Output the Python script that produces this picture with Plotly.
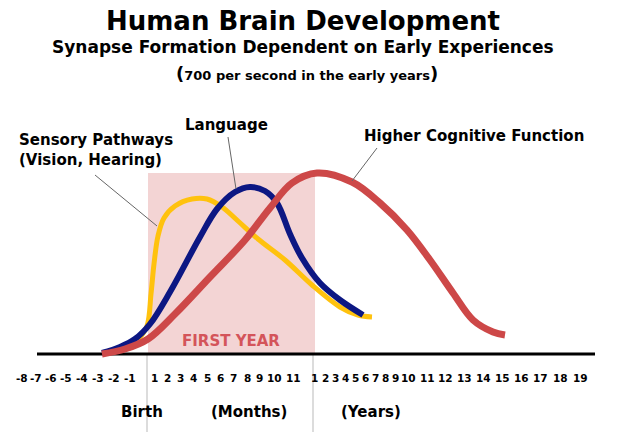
import plotly.graph_objects as go

# ---- Data (x: horizontal position on the timeline scale, y: synapse formation level) ----
sensory_x = [138, 147, 151, 154, 158, 164, 175, 192, 207, 222, 238, 258, 285, 312, 340, 358, 372]
sensory_y = [14, 28, 60, 90, 118, 136, 148, 155, 155, 147, 133, 115, 94, 69, 47, 39, 37]

language_x = [102, 120, 135, 150, 170, 200, 217, 235, 250, 265, 277, 290, 302, 320, 340, 363]
language_y = [1, 7, 15, 30, 62, 117, 145, 162, 167, 163, 151, 120, 96, 71, 54, 39]

cognitive_x = [102, 125, 148, 175, 210, 245, 270, 292, 317, 352, 380, 407, 430, 453, 473, 493, 505]
cognitive_y = [0, 5, 15, 40, 77, 114, 146, 171, 181, 172, 151, 124, 94, 61, 34, 22, 19]

tick_labels = ["-8", "-7", "-6", "-5", "-4", "-3", "-2", "-1",
               "1", "2", "3", "4", "5", "6", "7", "8", "9", "10", "11",
               "1", "2", "3", "4", "5", "6", "7", "8", "9", "10", "11", "12", "13", "14",
               "15", "16", "17", "18", "19"]
tick_pos = [22, 36, 51, 66, 82, 98, 114, 130,
            154, 167, 180, 193, 207, 220, 233, 247, 259, 274, 293,
            314, 325, 335, 345, 355, 365, 375, 385, 395, 408, 427, 445, 464, 483,
            502, 521, 540, 560, 580]

first_year = (148, 315)   # span of the first year band
axis_span = (37, 595)
years_start = 313

FONT = "DejaVu Sans"
YELLOW = "#FFC20E"
NAVY = "#0C1783"
RED = "#CD4848"

fig = go.Figure()

fig.add_trace(go.Scatter(x=sensory_x, y=sensory_y, mode="lines",
                         line=dict(color=YELLOW, width=5, shape="spline", smoothing=1),
                         hoverinfo="skip", showlegend=False))
fig.add_trace(go.Scatter(x=language_x, y=language_y, mode="lines",
                         line=dict(color=NAVY, width=6, shape="spline", smoothing=1),
                         hoverinfo="skip", showlegend=False))
fig.add_trace(go.Scatter(x=cognitive_x, y=cognitive_y, mode="lines",
                         line=dict(color=RED, width=7, shape="spline", smoothing=1),
                         hoverinfo="skip", showlegend=False))

shapes = [
    dict(type="rect", xref="x", yref="y", x0=first_year[0], x1=first_year[1], y0=0, y1=181,
         fillcolor="#F3D4D4", line=dict(width=0), layer="below"),
    dict(type="line", xref="x", yref="y", x0=first_year[0] - 1, x1=first_year[0] - 1, y0=0, y1=-78,
         line=dict(color="#D0D0D0", width=1.5), layer="below"),
    dict(type="line", xref="x", yref="y", x0=years_start, x1=years_start, y0=0, y1=-78,
         line=dict(color="#D0D0D0", width=1.5), layer="below"),
    dict(type="line", xref="x", yref="y", x0=axis_span[0], x1=axis_span[1], y0=0, y1=0,
         line=dict(color="black", width=3), layer="below"),
    # leader lines
    dict(type="line", xref="x", yref="y", x0=95, y0=179, x1=157, y1=128,
         line=dict(color="#666666", width=1)),
    dict(type="line", xref="x", yref="y", x0=228, y0=217, x1=236, y1=165,
         line=dict(color="#666666", width=1)),
    dict(type="line", xref="x", yref="y", x0=377, y0=206, x1=352, y1=173,
         line=dict(color="#666666", width=1)),
]

annotations = []
for p, lab in zip(tick_pos, tick_labels):
    annotations.append(dict(x=p, y=-24, xref="x", yref="y", text="<b>" + lab + "</b>",
                            showarrow=False, font=dict(family=FONT, size=10.5, color="black"),
                            xanchor="center", yanchor="middle"))


def txt(x, y, s, size, color="black", xanchor="center"):
    annotations.append(dict(x=x, y=y, xref="x", yref="y", text=s, showarrow=False,
                            font=dict(family=FONT, size=size, color=color),
                            xanchor=xanchor, yanchor="middle", align="left"))


txt(303, 333, "<b>Human Brain Development</b>", 26)
txt(303, 307, "<b>Synapse Formation Dependent on Early Experiences</b>", 17)
txt(307, 281, "<b><span style='font-size:18px'>(</span>700 per second in the early years<span style='font-size:18px'>)</span></b>", 13)
txt(17, 204, "<b>Sensory Pathways<br>(Vision, Hearing)</b>", 15, xanchor="left")
txt(226, 229, "<b>Language</b>", 15)
txt(474, 218, "<b>Higher Cognitive Function</b>", 15)
txt(231, 13, "<b>FIRST YEAR</b>", 15, color="#D4545A")
txt(142, -58, "<b>Birth</b>", 15)
txt(249, -58, "<b>(Months)</b>", 15)
txt(371, -58, "<b>(Years)</b>", 15)

fig.update_layout(
    width=623, height=435,
    margin=dict(l=0, r=0, t=0, b=0),
    paper_bgcolor="white", plot_bgcolor="white",
    xaxis=dict(range=[0, 623], visible=False, fixedrange=True),
    yaxis=dict(range=[-81, 354], visible=False, fixedrange=True),
    shapes=shapes, annotations=annotations,
    showlegend=False,
)

fig.write_html("out.html", config={"displayModeBar": False})
